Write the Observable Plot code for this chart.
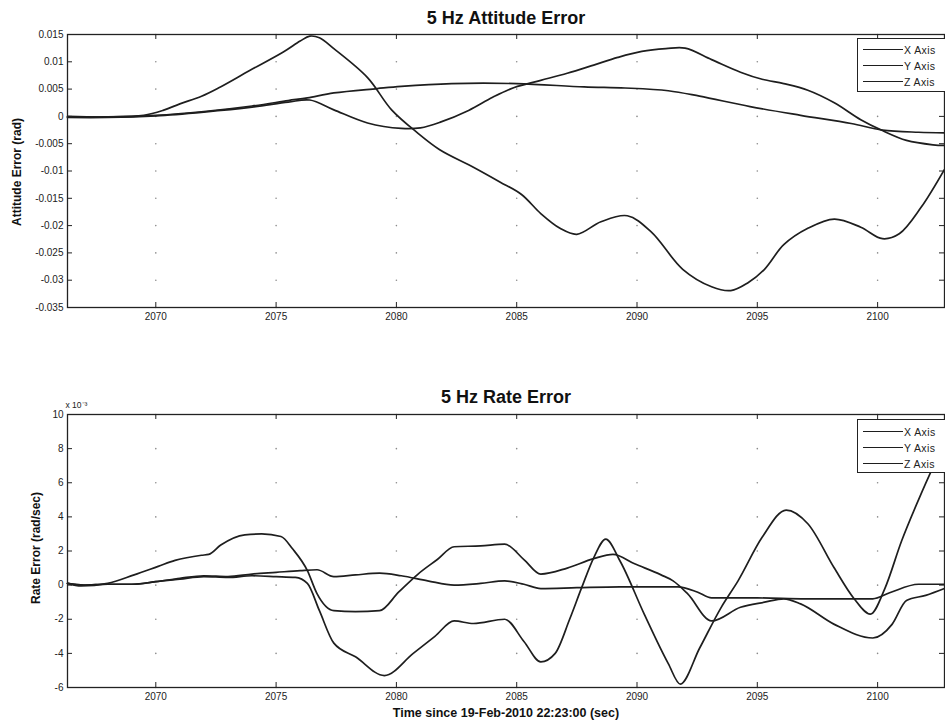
<!DOCTYPE html>
<html>
<head>
<meta charset="utf-8">
<script src="https://cdn.jsdelivr.net/npm/d3@7"></script>
<script src="https://cdn.jsdelivr.net/npm/@observablehq/plot@0.6"></script>
<style>
  body { margin: 0; background: #fff; }
  #fig { position: relative; width: 945px; height: 725px; overflow: hidden;
         font-family: "Liberation Sans", Arial, sans-serif; background: #fff; }
  .panel { position: absolute; left: 0; }
  .legend { position: absolute; box-sizing: border-box; border: 1px solid #222; background: #fff; }
  .legend .row { position: absolute; left: 0; width: 88px; height: 12px; }
  .legend .swatch { position: absolute; left: 5px; top: 5px; width: 40px; border-top: 1.7px solid #1e1e1e; }
  .legend .name { position: absolute; left: 46px; top: 0; font-size: 10.5px; line-height: 12px;
                  letter-spacing: 0.4px; color: #222; white-space: nowrap; }
</style>
</head>
<body>
<div id="fig"></div>
<script>
// ---- shared axis data ----
const seriesNames = ["X Axis", "Y Axis", "Z Axis"];
const timeDomain = [2066.33, 2102.78];
const timeTicks = [2070, 2075, 2080, 2085, 2090, 2095, 2100];
const timeLabel = "Time since 19-Feb-2010 22:23:00 (sec)";

// ---- 5 Hz attitude error (rad) ----
const attDomain = [-0.035, 0.015];
const attTicks = [0.015, 0.01, 0.005, 0, -0.005, -0.01, -0.015, -0.02, -0.025, -0.03, -0.035];
const attTickLabels = ["0.015", "0.01", "0.005", "0", "-0.005", "-0.01", "-0.015", "-0.02", "-0.025", "-0.03", "-0.035"];

const attXTime = [2066.33, 2068, 2070, 2072, 2074, 2075.5, 2076.4, 2077.4, 2078.8, 2080.2, 2081.0, 2081.8, 2083.0, 2084.0, 2084.9, 2086.0, 2087.1, 2088.2, 2089.2, 2090.2, 2091.2, 2092.0, 2093.1, 2094.3, 2095.2, 2096.1, 2097.1, 2098.2, 2099.3, 2100.2, 2101.2, 2102.3, 2102.78];
const attXVal  = [-0.0002, -0.0002, 0.0001, 0.0008, 0.0017, 0.0026, 0.0030, 0.0012, -0.0012, -0.0022, -0.0021, -0.0011, 0.0011, 0.0035, 0.0053, 0.0066, 0.0079, 0.0094, 0.0108, 0.0119, 0.0124, 0.0125, 0.0104, 0.0081, 0.0068, 0.0060, 0.0048, 0.0025, -0.0006, -0.0026, -0.0044, -0.0052, -0.0053];

const attYTime = [2066.33, 2068, 2069.5, 2070.3, 2071.0, 2071.9, 2072.6, 2073.9, 2075.3, 2076.0, 2076.4, 2076.8, 2077.4, 2078.8, 2079.8, 2080.9, 2081.8, 2083.2, 2084.3, 2085.2, 2086.0, 2086.8, 2087.5, 2088.5, 2089.6, 2090.6, 2091.9, 2093.1, 2093.9, 2094.6, 2095.3, 2096.1, 2097.1, 2098.2, 2099.3, 2100.2, 2100.9, 2101.8, 2102.78];
const attYVal  = [0, -0.0001, 0.0002, 0.0011, 0.0023, 0.0037, 0.0052, 0.0084, 0.0118, 0.0138, 0.0147, 0.0144, 0.0124, 0.0071, 0.0012, -0.0031, -0.0061, -0.0093, -0.0120, -0.0143, -0.0178, -0.0205, -0.0216, -0.0193, -0.0182, -0.0212, -0.0280, -0.0312, -0.0319, -0.0305, -0.0280, -0.0235, -0.0205, -0.0188, -0.0203, -0.0224, -0.0215, -0.0167, -0.0097];

const attZTime = [2066.33, 2068, 2070, 2072, 2074, 2075.5, 2076.3, 2077.4, 2079.2, 2080.2, 2082.3, 2085.0, 2087.8, 2089.5, 2091.3, 2092.6, 2094.7, 2096.8, 2098.9, 2100.2, 2101.7, 2102.78];
const attZVal  = [-0.0001, -0.0001, 0.0002, 0.0009, 0.0019, 0.0029, 0.0034, 0.0043, 0.0051, 0.0055, 0.0060, 0.0060, 0.0054, 0.0052, 0.0047, 0.0037, 0.0018, 0.0002, -0.0013, -0.0025, -0.0029, -0.0030];

// ---- 5 Hz rate error (units of 1e-3 rad/sec) ----
const rateDomain = [-6, 10];
const rateTicks = [10, 8, 6, 4, 2, 0, -2, -4, -6];
const rateTickLabels = ["10", "8", "6", "4", "2", "0", "-2", "-4", "-6"];

const rateXTime = [2066.33, 2067, 2068, 2069, 2070, 2071, 2072, 2073, 2074, 2075, 2076, 2076.7, 2077.4, 2078.3, 2079.3, 2080.2, 2081.3, 2082.4, 2083.5, 2084.5, 2085.3, 2086.0, 2087.5, 2089.3, 2091.7, 2092.5, 2093.1, 2095, 2097, 2099.8, 2100.5, 2101.7, 2102.78];
const rateXVal  = [0.1, 0.0, 0.05, 0.05, 0.2, 0.4, 0.55, 0.5, 0.65, 0.75, 0.85, 0.9, 0.5, 0.6, 0.7, 0.55, 0.25, 0.0, 0.1, 0.25, 0.05, -0.2, -0.15, -0.1, -0.1, -0.4, -0.75, -0.75, -0.8, -0.8, -0.45, 0.05, 0.05];

const rateYTime = [2066.33, 2067, 2068, 2069, 2070, 2071, 2072, 2073, 2074, 2075, 2075.8, 2076.3, 2076.8, 2077.4, 2078.3, 2079.5, 2080.7, 2081.6, 2082.4, 2083.2, 2084.5, 2085.3, 2086.0, 2086.6, 2087.2, 2087.7, 2088.2, 2088.7, 2089.3, 2090.3, 2091.3, 2091.8, 2092.6, 2093.5, 2094.2, 2095.2, 2096.2, 2097.1, 2098.2, 2099.0, 2099.7, 2100.3, 2101.0, 2101.7, 2102.3, 2102.78];
const rateYVal  = [0.1, 0.0, 0.05, 0.05, 0.2, 0.35, 0.5, 0.45, 0.55, 0.5, 0.45, 0.1, -1.5, -3.4, -4.2, -5.3, -4.0, -3.0, -2.1, -2.25, -2.0, -3.3, -4.5, -4.0, -2.0, -0.15, 1.6, 2.7, 1.4, -1.7, -4.6, -5.8, -3.7, -1.3, 0.25, 2.8, 4.4, 3.6, 1.0, -0.75, -1.7, -0.2, 2.6, 5.0, 6.9, 8.3];

const rateZTime = [2066.33, 2066.9, 2068.0, 2069.1, 2070.1, 2070.8, 2071.9, 2072.2, 2072.7, 2073.7, 2074.4, 2075.2, 2075.7, 2076.3, 2076.7, 2077.4, 2078.3, 2079.3, 2080.1, 2080.9, 2081.7, 2082.4, 2083.5, 2084.5, 2085.3, 2086.0, 2087.1, 2088.2, 2089.0, 2089.9, 2091.0, 2091.5, 2092.1, 2093.1, 2094.3, 2095.3, 2096.1, 2096.8, 2098.2, 2099.8, 2100.6, 2101.2, 2102.0, 2102.78];
const rateZVal  = [0.1, -0.05, 0.1, 0.6, 1.1, 1.45, 1.75, 1.8, 2.35, 2.95, 3.0, 2.85, 2.1, 0.85, -0.5, -1.5, -1.55, -1.5, -0.4, 0.65, 1.5, 2.25, 2.3, 2.4, 1.5, 0.65, 1.0, 1.55, 1.8, 1.25, 0.6, 0.25, -0.5, -2.1, -1.3, -1.0, -0.8, -1.1, -2.3, -3.1, -2.3, -0.9, -0.6, -0.2];

// ---- helpers ----
const FONT = '"Liberation Sans", Arial, sans-serif';
const LINE = "#1e1e1e";
const INK = "#222";

function toRows(name, times, values) {
  return times.map((t, i) => ({axis: name, t, v: values[i]}));
}

function makePanel(cfg) {
  const marginLeft = 67, marginRight = 1;
  const frameW = 945 - marginLeft - marginRight;
  const frameH = cfg.height - cfg.marginTop - cfg.marginBottom;
  const rows = cfg.series.flatMap(([name, t, v]) => toRows(name, t, v));
  const grid = timeTicks.flatMap(x => cfg.yTicks.map(y => ({x, y})));
  const labelOf = new Map(cfg.yTicks.map((d, i) => [d, cfg.yTickLabels[i]]));

  const marks = [
    Plot.dot(grid, {x: "x", y: "y", r: 0.8, fill: "#8a8a8a", stroke: null}),
    Plot.line(rows, {x: "t", y: "v", z: "axis", stroke: LINE, strokeWidth: 1.7, curve: cfg.curve}),
    Plot.frame({stroke: INK, strokeWidth: 1.3}),
    // inward ticks on all four sides
    Plot.tickX(timeTicks, {x: d => d, insetTop: frameH - 5, stroke: INK}),
    Plot.tickX(timeTicks, {x: d => d, insetBottom: frameH - 5, stroke: INK}),
    Plot.tickY(cfg.yTicks, {y: d => d, insetRight: frameW - 5, stroke: INK}),
    Plot.tickY(cfg.yTicks, {y: d => d, insetLeft: frameW - 5, stroke: INK}),
    Plot.axisX(timeTicks, {tickSize: 0, tickPadding: 5, tickFormat: d => String(d), label: null, fontSize: 10}),
    Plot.axisY(cfg.yTicks, {tickSize: 0, tickPadding: 4, tickFormat: d => labelOf.get(d), label: null, fontSize: 10}),
    Plot.text([cfg.title], {frameAnchor: "top", dy: cfg.titleDy, lineAnchor: "middle", fontWeight: "bold", fontSize: 18, fill: "#111"}),
    Plot.text([cfg.yLabel], {frameAnchor: "left", dx: cfg.yLabelDx, dy: cfg.yLabelDy, rotate: -90, textAnchor: "middle", lineAnchor: "middle", fontWeight: "bold", fontSize: 12, fill: "#111"})
  ];
  if (cfg.note) marks.push(Plot.text([cfg.note], {frameAnchor: "top-left", dx: -2, dy: -9, textAnchor: "start", lineAnchor: "middle", fontSize: 8.5, fill: INK}));
  if (cfg.xLabel) marks.push(Plot.text([cfg.xLabel], {frameAnchor: "bottom", dy: 25, lineAnchor: "middle", fontWeight: "bold", fontSize: 12.5, fill: "#111"}));

  const svg = Plot.plot({
    width: 945,
    height: cfg.height,
    marginLeft, marginRight,
    marginTop: cfg.marginTop,
    marginBottom: cfg.marginBottom,
    x: {domain: timeDomain},
    y: {domain: cfg.yDomain},
    style: {fontFamily: FONT, fontSize: "10px", color: INK, background: "white", overflow: "visible"},
    marks
  });
  svg.classList.add("panel");
  svg.style.top = cfg.top + "px";
  return svg;
}

function makeLegend(left, top, rowTops) {
  const box = document.createElement("div");
  box.className = "legend";
  Object.assign(box.style, {left: left + "px", top: top + "px", width: "90px", height: "54px"});
  seriesNames.forEach((name, i) => {
    const row = document.createElement("div");
    row.className = "row";
    row.style.top = rowTops[i] + "px";
    const sw = document.createElement("span");
    sw.className = "swatch";
    const tx = document.createElement("span");
    tx.className = "name";
    tx.textContent = name;
    row.append(sw, tx);
    box.append(row);
  });
  return box;
}

const fig = document.getElementById("fig");

fig.append(makePanel({
  top: 0, height: 330, marginTop: 34, marginBottom: 23,
  yDomain: attDomain, yTicks: attTicks, yTickLabels: attTickLabels,
  series: [[seriesNames[0], attXTime, attXVal], [seriesNames[1], attYTime, attYVal], [seriesNames[2], attZTime, attZVal]],
  curve: "catmull-rom",
  title: "5 Hz Attitude Error", titleDy: -16,
  yLabel: "Attitude Error (rad)", yLabelDx: -50, yLabelDy: 1
}));
fig.append(makeLegend(857, 38, [5, 21, 37]));

fig.append(makePanel({
  top: 380, height: 345, marginTop: 34, marginBottom: 38,
  yDomain: rateDomain, yTicks: rateTicks, yTickLabels: rateTickLabels,
  series: [[seriesNames[0], rateXTime, rateXVal], [seriesNames[1], rateYTime, rateYVal], [seriesNames[2], rateZTime, rateZVal]],
  curve: "monotone-x",
  title: "5 Hz Rate Error", titleDy: -17,
  yLabel: "Rate Error (rad/sec)", yLabelDx: -31, yLabelDy: -3,
  note: "x 10\u207B\u00B3",
  xLabel: timeLabel
}));
fig.append(makeLegend(857, 419, [6, 22, 38]));
</script>
</body>
</html>
